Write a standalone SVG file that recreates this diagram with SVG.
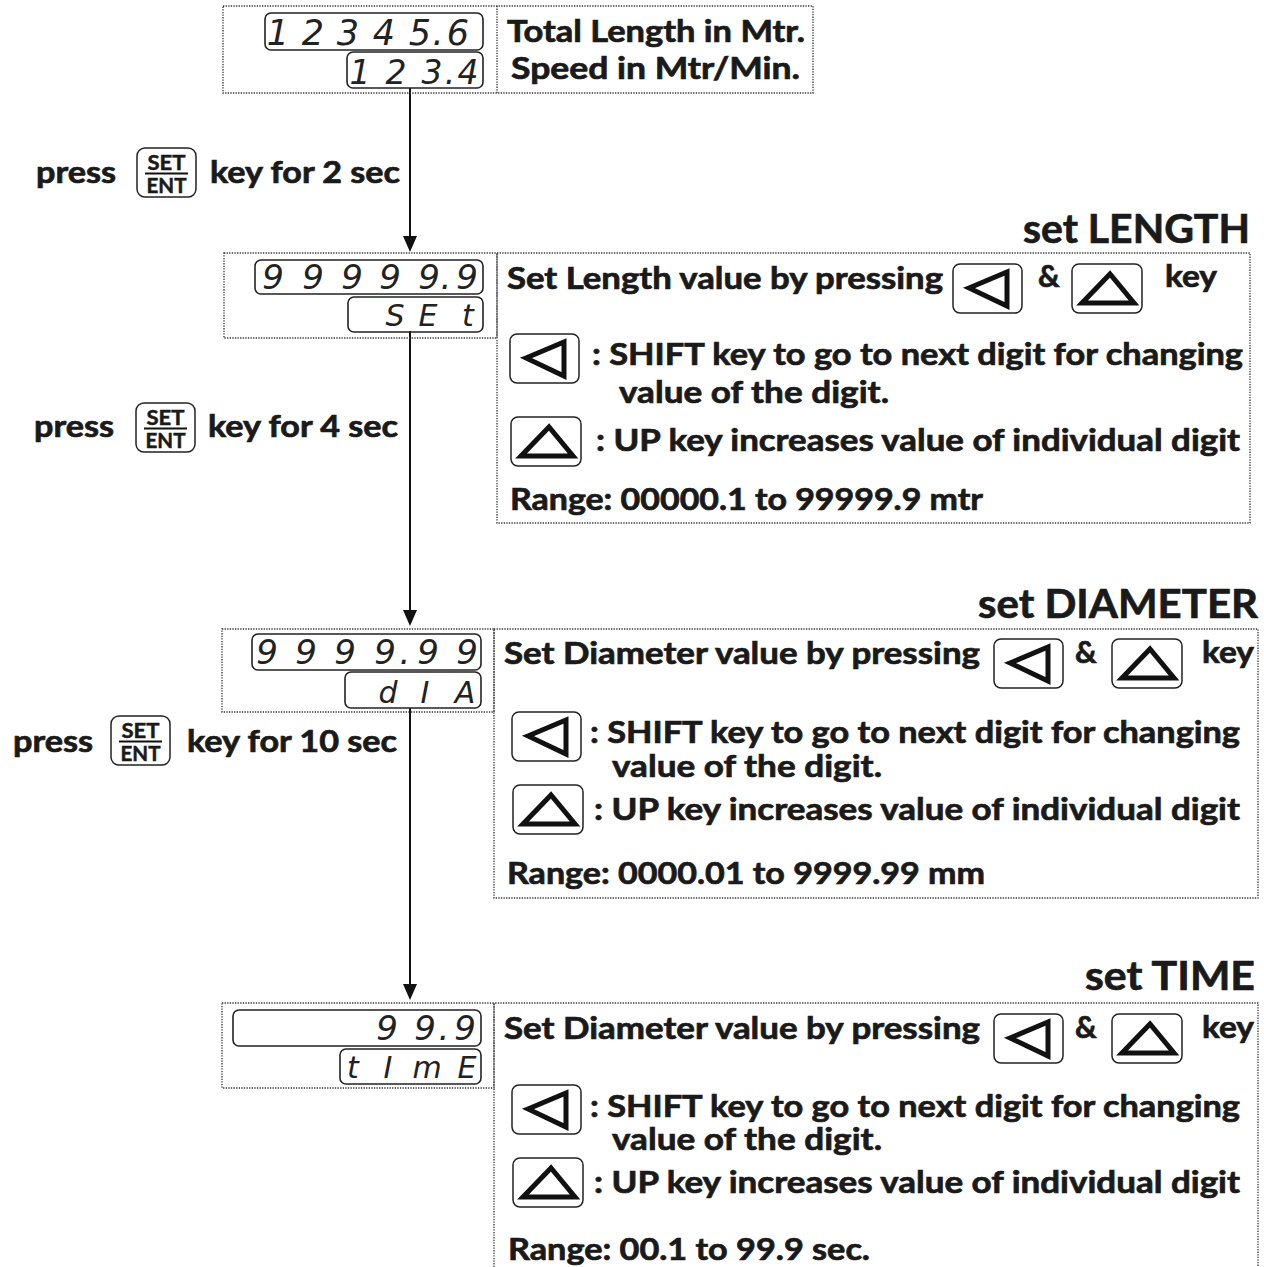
<svg xmlns="http://www.w3.org/2000/svg" xmlns:xlink="http://www.w3.org/1999/xlink" width="1264" height="1267" viewBox="0 0 1264 1267">
<style>
.dot{fill:none;stroke:#333;stroke-width:1.3;stroke-dasharray:1.3 1.3}
.disp{fill:none;stroke:#222;stroke-width:1.6}
.seg{font-family:"DejaVu Sans",sans-serif;font-style:italic;font-weight:200;fill:#222;text-anchor:middle}
.b{font-family:Lato,"Open Sans","Liberation Sans",sans-serif;font-weight:bold;fill:#1a1a1a;stroke:#1a1a1a;stroke-width:0.7}
.t{font-size:30px}
.h{font-size:40px}
.key{fill:#fff;stroke:#222;stroke-width:1.5}
.tri{fill:none;stroke:#111;stroke-width:5;stroke-linejoin:miter}
.conn{stroke:#111;stroke-width:2;fill:none}
.sk{font-family:Lato,"Open Sans","Liberation Sans",sans-serif;font-weight:bold;font-size:21px;fill:#1a1a1a;stroke:#1a1a1a;stroke-width:0.5;text-anchor:middle}
</style>
<defs>
<g id="kleft"><rect class="key" x="0" y="0" width="69" height="49" rx="7"/><polygon class="tri" points="16,24 54,8 54,42"/></g>
<g id="kup"><rect class="key" x="0" y="0" width="70" height="49" rx="7"/><polygon class="tri" points="38,10 10,39 62,39"/></g>
<g id="kset"><rect class="key" x="0" y="0" width="59" height="49" rx="8"/><text class="sk" x="29.5" y="22" textLength="38" lengthAdjust="spacingAndGlyphs">SET</text><line x1="8" y1="25.5" x2="51" y2="25.5" stroke="#111" stroke-width="2.2"/><text class="sk" x="29.5" y="45" textLength="40" lengthAdjust="spacingAndGlyphs">ENT</text></g>
</defs>

<g id="connectors">
<line class="conn" x1="410" y1="88" x2="410" y2="238"/>
<polygon points="403,236 417,236 410,252" fill="#111"/>
<line class="conn" x1="410" y1="331" x2="410" y2="612"/>
<polygon points="403,610 417,610 410,626" fill="#111"/>
<line class="conn" x1="410" y1="708" x2="410" y2="986"/>
<polygon points="403,984 417,984 410,1000" fill="#111"/>
</g>

<g id="node-run">
<rect class="dot" x="223" y="6" width="590" height="87"/>
<line class="dot" x1="497" y1="6" x2="497" y2="93"/>
<rect class="disp" x="265" y="13" width="218" height="37" rx="6"/>
<rect class="disp" x="347" y="52" width="136" height="36" rx="6"/>
<text class="seg" font-size="35" x="278 313 348 384 420 438 458" y="45">12345.6</text>
<text class="seg" font-size="33" x="360 396 432 450 468" y="84">123.4</text>
<text class="b t" x="507" y="42" textLength="298" lengthAdjust="spacingAndGlyphs">Total Length in Mtr.</text>
<text class="b t" x="511" y="79" textLength="289" lengthAdjust="spacingAndGlyphs">Speed in Mtr/Min.</text>
</g>

<g id="label-press-2">
<text class="b t" x="36" y="183" textLength="80" lengthAdjust="spacingAndGlyphs">press</text>
<use xlink:href="#kset" href="#kset" x="137" y="148"/>
<text class="b t" x="210" y="183" textLength="190" lengthAdjust="spacingAndGlyphs">key for 2 sec</text>
</g>

<g id="node-length">
<text class="b h" x="1023" y="243" textLength="227" lengthAdjust="spacingAndGlyphs">set LENGTH</text>
<rect class="dot" x="224" y="253" width="273" height="85"/>
<rect class="dot" x="497" y="253" width="753" height="270"/>
<rect class="disp" x="255" y="260" width="228" height="34" rx="6"/>
<rect class="disp" x="348" y="297" width="135" height="35" rx="6"/>
<text class="seg" font-size="34" x="273 313 352 390 429 446 467" y="289">99999.9</text>
<text class="seg" font-size="30" x="395 428 468" y="326">SEt</text>
<text class="b t" x="507" y="289" textLength="436" lengthAdjust="spacingAndGlyphs">Set Length value by pressing</text>
<use xlink:href="#kleft" href="#kleft" x="953" y="264"/>
<text class="b t" x="1038" y="287">&amp;</text>
<use xlink:href="#kup" href="#kup" x="1072" y="264"/>
<text class="b t" x="1165" y="287" textLength="52" lengthAdjust="spacingAndGlyphs">key</text>
<use xlink:href="#kleft" href="#kleft" x="510" y="334"/>
<text class="b t" x="592" y="365" textLength="651" lengthAdjust="spacingAndGlyphs">: SHIFT key to go to next digit for changing</text>
<text class="b t" x="619" y="403" textLength="270" lengthAdjust="spacingAndGlyphs">value of the digit.</text>
<use xlink:href="#kup" href="#kup" x="511" y="417"/>
<text class="b t" x="596" y="451" textLength="644" lengthAdjust="spacingAndGlyphs">: UP key increases value of individual digit</text>
<text class="b t" x="510" y="510" textLength="473" lengthAdjust="spacingAndGlyphs">Range: 00000.1 to 99999.9 mtr</text>
</g>

<g id="label-press-4">
<text class="b t" x="34" y="437" textLength="80" lengthAdjust="spacingAndGlyphs">press</text>
<use xlink:href="#kset" href="#kset" x="136" y="403"/>
<text class="b t" x="208" y="437" textLength="190" lengthAdjust="spacingAndGlyphs">key for 4 sec</text>
</g>

<g id="node-diameter">
<text class="b h" x="978" y="618" textLength="280" lengthAdjust="spacingAndGlyphs">set DIAMETER</text>
<rect class="dot" x="222" y="629" width="272" height="83"/>
<rect class="dot" x="494" y="629" width="764" height="269"/>
<rect class="disp" x="252" y="634" width="229" height="36" rx="6"/>
<rect class="disp" x="345" y="672" width="136" height="36" rx="6"/>
<text class="seg" font-size="34" x="267 306 345 385 405 428 467" y="664">9999.99</text>
<text class="seg" font-size="30" x="388 425 465" y="703">dIA</text>
<text class="b t" x="504" y="664" textLength="476" lengthAdjust="spacingAndGlyphs">Set Diameter value by pressing</text>
<use xlink:href="#kleft" href="#kleft" x="994" y="639"/>
<text class="b t" x="1075" y="663">&amp;</text>
<use xlink:href="#kup" href="#kup" x="1112" y="639"/>
<text class="b t" x="1202" y="663" textLength="52" lengthAdjust="spacingAndGlyphs">key</text>
<use xlink:href="#kleft" href="#kleft" x="512" y="712"/>
<text class="b t" x="590" y="743" textLength="650" lengthAdjust="spacingAndGlyphs">: SHIFT key to go to next digit for changing</text>
<text class="b t" x="612" y="777" textLength="270" lengthAdjust="spacingAndGlyphs">value of the digit.</text>
<use xlink:href="#kup" href="#kup" x="513" y="785"/>
<text class="b t" x="594" y="820" textLength="646" lengthAdjust="spacingAndGlyphs">: UP key increases value of individual digit</text>
<text class="b t" x="507" y="884" textLength="478" lengthAdjust="spacingAndGlyphs">Range: 0000.01 to 9999.99 mm</text>
</g>

<g id="label-press-10">
<text class="b t" x="13" y="752" textLength="80" lengthAdjust="spacingAndGlyphs">press</text>
<use xlink:href="#kset" href="#kset" x="111" y="716"/>
<text class="b t" x="187" y="752" textLength="210" lengthAdjust="spacingAndGlyphs">key for 10 sec</text>
</g>

<g id="node-time">
<text class="b h" x="1085" y="990" textLength="170" lengthAdjust="spacingAndGlyphs">set TIME</text>
<rect class="dot" x="222" y="1003" width="272" height="85"/>
<path class="dot" d="M494 1267 V1003 H1258 V1267"/>
<rect class="disp" x="233" y="1010" width="248" height="36" rx="6"/>
<rect class="disp" x="340" y="1049" width="141" height="35" rx="6"/>
<text class="seg" font-size="34" x="387 425 444 465" y="1040">99.9</text>
<text class="seg" font-size="30" x="353 388 427 467" y="1078">tImE</text>
<text class="b t" x="504" y="1039" textLength="476" lengthAdjust="spacingAndGlyphs">Set Diameter value by pressing</text>
<use xlink:href="#kleft" href="#kleft" x="994" y="1014"/>
<text class="b t" x="1075" y="1038">&amp;</text>
<use xlink:href="#kup" href="#kup" x="1112" y="1014"/>
<text class="b t" x="1202" y="1038" textLength="52" lengthAdjust="spacingAndGlyphs">key</text>
<use xlink:href="#kleft" href="#kleft" x="512" y="1085"/>
<text class="b t" x="590" y="1117" textLength="650" lengthAdjust="spacingAndGlyphs">: SHIFT key to go to next digit for changing</text>
<text class="b t" x="612" y="1150" textLength="270" lengthAdjust="spacingAndGlyphs">value of the digit.</text>
<use xlink:href="#kup" href="#kup" x="513" y="1158"/>
<text class="b t" x="594" y="1193" textLength="646" lengthAdjust="spacingAndGlyphs">: UP key increases value of individual digit</text>
<text class="b t" x="508" y="1260" textLength="362" lengthAdjust="spacingAndGlyphs">Range: 00.1 to 99.9 sec.</text>
</g>
</svg>
